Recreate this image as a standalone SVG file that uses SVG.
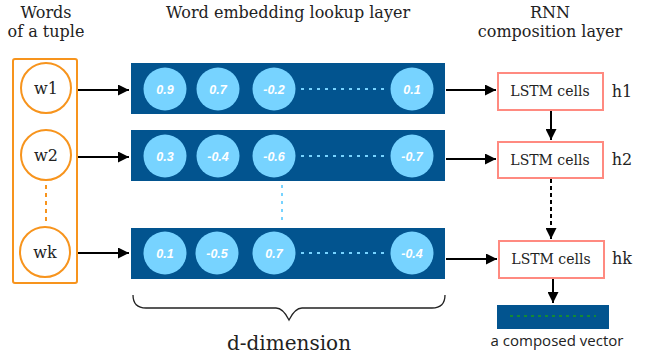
<svg xmlns="http://www.w3.org/2000/svg" width="646" height="354" viewBox="0 0 646 354">
<defs>
<style>
.title{font-size:16px;fill:#222;text-anchor:middle}
.row{fill:#02548F}
.cell{fill:#77D3FF}
.num{font-family:"Liberation Sans",Arial,sans-serif;font-size:12.5px;font-weight:bold;font-style:italic;fill:#fff;text-anchor:middle}
.vdots{stroke:#77D3FF;stroke-width:2;stroke-dasharray:3 5}
.wc{fill:#fff;stroke:#F7941D;stroke-width:2}
.lstm{fill:#fff;stroke:#FF8A80;stroke-width:2}
.lt{font-size:14px;fill:#222;text-anchor:middle}
.arr{stroke:#000;stroke-width:2;fill:none;marker-end:url(#ah)}
</style>
<marker id="ah" viewBox="0 0 10 10" refX="10" refY="5" markerWidth="5.5" markerHeight="5.5" markerUnits="strokeWidth" orient="auto">
<path d="M0,0 L10,5 L0,10 Z" fill="#000"/>
</marker>
</defs>
<rect width="646" height="354" fill="#fff"/>

<g font-family="DejaVu Serif, Liberation Serif, serif">
<text class="title" x="46" y="18">Words</text>
<text class="title" x="46" y="37">of a tuple</text>
<text class="title" x="288" y="18">Word embedding lookup layer</text>
<text class="title" x="550" y="18">RNN</text>
<text class="title" x="550" y="37">composition layer</text>
</g>

<g id="tuple">
<rect x="13" y="59" width="64" height="224" rx="2" fill="none" stroke="#F7941D" stroke-width="2"/>
<line x1="46" y1="185" x2="46" y2="223" stroke="#F7941D" stroke-width="2" stroke-dasharray="4 4"/>
</g>
<g id="w1" font-family="DejaVu Serif, Liberation Serif, serif"><circle class="wc" cx="46" cy="88" r="25"/><text class="title" x="46" y="94">w1</text></g>
<g id="w2" font-family="DejaVu Serif, Liberation Serif, serif"><circle class="wc" cx="46" cy="155" r="25"/><text class="title" x="46" y="161">w2</text></g>
<g id="wk" font-family="DejaVu Serif, Liberation Serif, serif"><circle class="wc" cx="45" cy="252" r="25"/><text class="title" x="45" y="258">wk</text></g>

<g id="row1">
<rect class="row" x="131" y="63" width="314" height="51"/>
<circle class="cell" cx="165" cy="89" r="21.5"/><text class="num" x="165" y="93.5">0.9</text>
<circle class="cell" cx="218" cy="89" r="21.5"/><text class="num" x="218" y="93.5">0.7</text>
<circle class="cell" cx="274" cy="89" r="21.5"/><text class="num" x="274" y="93.5">-0.2</text>
<line class="vdots" x1="301" y1="89" x2="388" y2="89" stroke-dasharray="3 4"/>
<circle class="cell" cx="412" cy="89" r="21.5"/><text class="num" x="412" y="93.5">0.1</text>
</g>
<g id="row2">
<rect class="row" x="131" y="130" width="314" height="51"/>
<circle class="cell" cx="165" cy="156" r="21.5"/><text class="num" x="165" y="160.5">0.3</text>
<circle class="cell" cx="218" cy="156" r="21.5"/><text class="num" x="218" y="160.5">-0.4</text>
<circle class="cell" cx="274" cy="156" r="21.5"/><text class="num" x="274" y="160.5">-0.6</text>
<line class="vdots" x1="301" y1="156" x2="388" y2="156" stroke-dasharray="3 4"/>
<circle class="cell" cx="412" cy="156" r="21.5"/><text class="num" x="412" y="160.5">-0.7</text>
</g>
<line class="vdots" x1="282" y1="185" x2="282" y2="222" stroke-dasharray="4 3"/>
<g id="rowk">
<rect class="row" x="131" y="228" width="314" height="51"/>
<circle class="cell" cx="165" cy="253" r="21.5"/><text class="num" x="165" y="257.5">0.1</text>
<circle class="cell" cx="217" cy="253" r="21.5"/><text class="num" x="217" y="257.5">-0.5</text>
<circle class="cell" cx="274" cy="253" r="21.5"/><text class="num" x="274" y="257.5">0.7</text>
<line class="vdots" x1="301" y1="253" x2="388" y2="253" stroke-dasharray="3 4"/>
<circle class="cell" cx="412" cy="253" r="21.5"/><text class="num" x="412" y="257.5">-0.4</text>
</g>

<g id="brace" font-family="DejaVu Serif, Liberation Serif, serif">
<path d="M133,295 Q133,308 146,308 L276,308 Q283,308 289,320 Q295,308 302,308 L432,308 Q445,308 445,295" fill="none" stroke="#222" stroke-width="1.3"/>
<text class="title" x="289" y="350" style="font-size:20px">d-dimension</text>
</g>

<g id="lstm1" font-family="DejaVu Serif, Liberation Serif, serif"><rect class="lstm" x="498" y="73" width="105" height="37"/><text class="lt" x="550" y="96">LSTM cells</text><text class="title" x="622" y="97">h1</text></g>
<g id="lstm2" font-family="DejaVu Serif, Liberation Serif, serif"><rect class="lstm" x="498" y="142" width="105" height="36"/><text class="lt" x="550" y="165">LSTM cells</text><text class="title" x="622" y="165">h2</text></g>
<g id="lstmk" font-family="DejaVu Serif, Liberation Serif, serif"><rect class="lstm" x="499" y="241" width="105" height="37"/><text class="lt" x="551" y="264">LSTM cells</text><text class="title" x="622" y="264">hk</text></g>

<g id="composed">
<rect x="497" y="305" width="112" height="24" fill="#02548F"/>
<line x1="510" y1="316" x2="596" y2="316" stroke="#1a9b1a" stroke-width="1.5" stroke-dasharray="3 4"/>
<text x="557" y="346" font-family="Open Sans, Liberation Sans, sans-serif" font-size="15" fill="#222" text-anchor="middle">a composed vector</text>
</g>

<g id="connectors">
<line class="arr" x1="78" y1="90" x2="129" y2="90"/>
<line class="arr" x1="78" y1="157" x2="129" y2="157"/>
<line class="arr" x1="78" y1="253" x2="129" y2="253"/>
<line class="arr" x1="446" y1="90" x2="496" y2="90"/>
<line class="arr" x1="446" y1="159" x2="496" y2="159"/>
<line class="arr" x1="446" y1="259" x2="497" y2="259"/>
<line class="arr" x1="551" y1="111" x2="551" y2="140"/>
<line class="arr" x1="551" y1="179" x2="551" y2="239" stroke-dasharray="4 3"/>
<line class="arr" x1="553" y1="279" x2="553" y2="303"/>
</g>
</svg>
